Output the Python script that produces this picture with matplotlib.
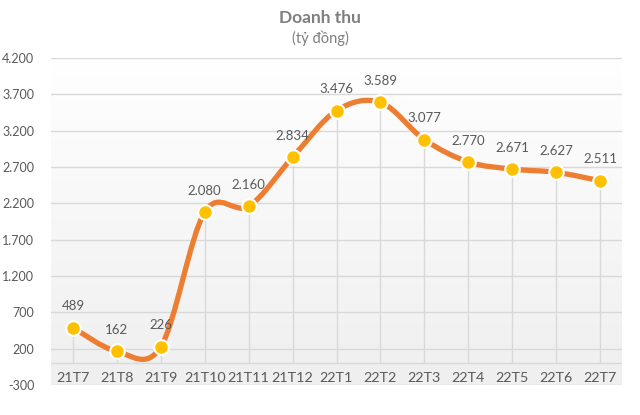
import numpy as np
import matplotlib.pyplot as plt
from matplotlib.colors import LinearSegmentedColormap
from matplotlib.path import Path
from matplotlib.patches import PathPatch

plt.rcParams["font.family"] = ["Lato", "DejaVu Sans"]

months = ["21T7", "21T8", "21T9", "21T10", "21T11", "21T12", "22T1",
          "22T2", "22T3", "22T4", "22T5", "22T6", "22T7"]
revenue = [489, 162, 226, 2080, 2160, 2834, 3476, 3589, 3077, 2770, 2671, 2627, 2511]
yticks = [-300, 200, 700, 1200, 1700, 2200, 2700, 3200, 3700, 4200]

gray = "#595959"
fig = plt.figure(figsize=(6.4, 4.15), dpi=100)
ax = fig.add_axes([51 / 640, 1 - 385 / 415, 571 / 640, 327 / 415])

x = np.arange(len(months))
y = np.array(revenue, dtype=float)

# gradient background, white at top to light gray at bottom
grad = np.linspace(1, 0, 256).reshape(-1, 1)
ax.imshow(grad, extent=[0, 1, 0, 1], transform=ax.transAxes, aspect="auto",
          cmap=LinearSegmentedColormap.from_list("bg", ["#EFEFEF", "#FFFFFF"]),
          zorder=0)

for yt in yticks:
    ax.axhline(yt, color="#D9D9D9", lw=1, zorder=1)
ax.axhline(0, color="#D9D9D9", lw=1, zorder=1)

# drop lines
ax.vlines(x, 0, y, color="#D9D9D9", lw=1, zorder=1)

# smoothed line as bezier path (Excel-like smoothing)
verts = [(x[0], y[0])]
codes = [Path.MOVETO]
n = len(x)
for i in range(n - 1):
    p0 = np.array([x[max(i - 1, 0)], y[max(i - 1, 0)]])
    p1 = np.array([x[i], y[i]])
    p2 = np.array([x[i + 1], y[i + 1]])
    p3 = np.array([x[min(i + 2, n - 1)], y[min(i + 2, n - 1)]])
    c1 = p1 + (p2 - p0) / 6
    c2 = p2 - (p3 - p1) / 6
    verts += [tuple(c1), tuple(c2), tuple(p2)]
    codes += [Path.CURVE4] * 3
ax.add_patch(PathPatch(Path(verts, codes), fill=False, edgecolor="#ED7D31",
                       lw=3.8, capstyle="round", zorder=3))

ax.plot(x, y, "o", ms=10.5, mfc="#FFC000", mec="white", mew=1.5, zorder=4)

for xi, yi in zip(x, revenue):
    lbl = f"{yi:,}".replace(",", ".")
    ax.annotate(lbl, (xi, yi), xytext=(0, 11), textcoords="offset points",
                ha="center", va="bottom", fontsize=9.5, color=gray, zorder=5)

for xi, m in zip(x, months):
    ax.text(xi, -200, m, ha="center", va="center", fontsize=10.3, color=gray, zorder=5)

ax.set_xlim(-0.5, n - 0.5)
ax.set_ylim(-300, 4200)
ax.set_xticks([])
ax.set_yticks(yticks)
ax.set_yticklabels([f"{v:,}".replace(",", ".") for v in yticks])
ax.tick_params(axis="y", length=0, labelsize=9, labelcolor=gray, pad=12)
for s in ax.spines.values():
    s.set_visible(False)

fig.text(0.5, 1 - 18 / 415, "Doanh thu", ha="center", va="center",
         fontsize=12.5, fontweight="bold", color="#7F7F7F")
fig.text(0.5, 1 - 38 / 415, "(tỷ đồng)", ha="center", va="center",
         fontsize=10.5, color="#7F7F7F")

fig.savefig("out.png", dpi=100)
